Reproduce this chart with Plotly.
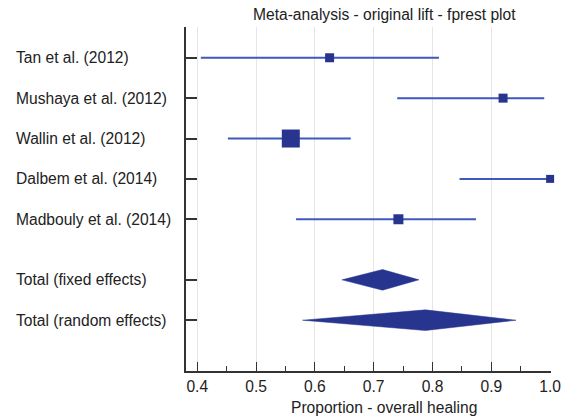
import plotly.graph_objects as go

studies = ["Tan et al. (2012)", "Mushaya et al. (2012)", "Wallin et al. (2012)",
           "Dalbem et al. (2014)", "Madbouly et al. (2014)"]
est = [0.625, 0.920, 0.559, 1.000, 0.742]
lo = [0.406, 0.740, 0.452, 0.846, 0.568]
hi = [0.811, 0.990, 0.661, 1.000, 0.874]
weight_size = [9, 9, 18, 8, 10]
rows = [1, 2, 3, 4, 5]

pooled = ["Total (fixed effects)", "Total (random effects)"]
pooled_est = [0.715, 0.788]
pooled_lo = [0.646, 0.579]
pooled_hi = [0.777, 0.942]
pooled_rows = [6.5, 7.5]

xticks = [0.4, 0.5, 0.6, 0.7, 0.8, 0.9, 1.0]

LINE = "#3E58BC"
MARK = "#28358F"
TXT = "#222222"
FONT = "Liberation Sans, Arial, sans-serif"
FS = 15.6
HALF = 0.256  # diamond half-height in row units

fig = go.Figure()
lx, ly = [], []
for l, h, r in zip(lo, hi, rows):
    lx += [l, h, None]
    ly += [r, r, None]
fig.add_trace(go.Scatter(x=lx, y=ly, mode="lines", line=dict(color=LINE, width=2),
                         showlegend=False, hoverinfo="skip"))
fig.add_trace(go.Scatter(
    x=est, y=rows, mode="markers",
    marker=dict(symbol="square", size=weight_size, color=MARK, opacity=1,
                line=dict(width=0)),
    cliponaxis=False, showlegend=False, hoverinfo="skip"))

for e, l, h, r in zip(pooled_est, pooled_lo, pooled_hi, pooled_rows):
    fig.add_trace(go.Scatter(
        x=[l, e, h, e, l], y=[r, r - HALF, r, r + HALF, r],
        mode="lines", fill="toself", fillcolor=MARK,
        line=dict(color=MARK, width=0.5), showlegend=False, hoverinfo="skip"))

annots = []
for name, r in zip(studies + pooled, rows + pooled_rows):
    annots.append(dict(x=-0.4685, xref="paper", y=r, yref="y", text=name,
                       showarrow=False, xanchor="left", yanchor="middle", xshift=-1,
                       font=dict(size=FS, color=TXT, family=FONT)))
annots.append(dict(x=0.543, xref="paper", y=1.0, yref="paper", yshift=13,
                   text="Meta-analysis - original lift - fprest plot", showarrow=False,
                   xanchor="center", yanchor="middle",
                   font=dict(size=FS, color=TXT, family=FONT)))
annots.append(dict(x=0.543, xref="paper", y=-0.1047, yref="paper",
                   text="Proportion - overall healing", showarrow=False,
                   xanchor="center", yanchor="middle",
                   font=dict(size=FS, color=TXT, family=FONT)))

fig.update_layout(
    width=566, height=417,
    margin=dict(l=186, r=15, t=27, b=46),
    plot_bgcolor="white", paper_bgcolor="white",
    font=dict(family=FONT, size=FS, color=TXT),
    annotations=annots,
    xaxis=dict(range=[0.3808, 1.0015], tickvals=xticks,
               ticktext=[f"{v:.1f}" for v in xticks], automargin=False,
               ticks="inside", ticklen=9, tickwidth=1.2, tickcolor="#333",
               showline=True, linecolor="#333", linewidth=2,
               showgrid=True, gridcolor="#e6e6e6", gridwidth=1,
               zeroline=False,
               minor=dict(tickvals=[0.45, 0.55, 0.65, 0.75, 0.85, 0.95],
                          ticks="inside", ticklen=5, tickcolor="#333", showgrid=False),
               tickfont=dict(size=FS, color=TXT, family=FONT)),
    yaxis=dict(range=[8.758, 0.238], tickvals=rows + pooled_rows, automargin=False,
               ticktext=[""] * 7, ticks="inside", ticklen=11, tickwidth=1.5,
               tickcolor="#333", showline=True, linecolor="#333", linewidth=2,
               showgrid=False, zeroline=False),
)

fig.write_html("out.html")
